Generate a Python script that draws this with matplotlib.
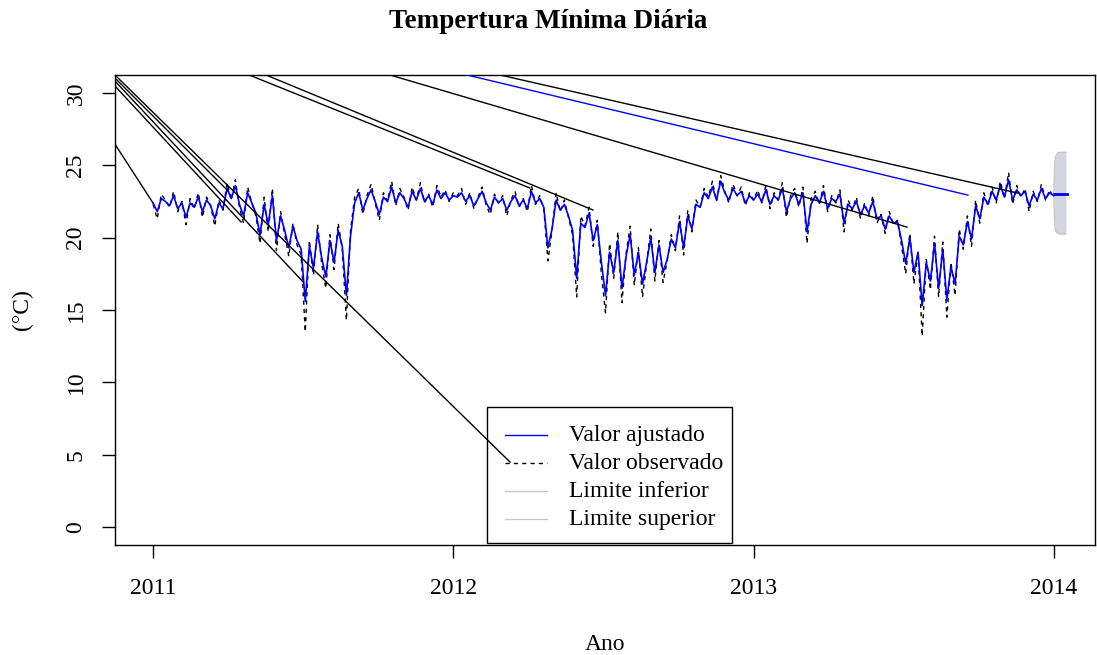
import numpy as np
import matplotlib
matplotlib.use("Agg")
import matplotlib.pyplot as plt
from matplotlib.patches import Rectangle

plt.rcParams["font.family"] = ["Liberation Serif", "DejaVu Serif"]

# daily minimum temperature, sampled every 5 days from 2011-01-01
days = np.arange(0, 1096, 5)

observado = [
    # 2011
    22.3, 21.3, 23.0, 22.6, 22.1, 23.2, 21.8, 22.5, 20.9, 22.7, 22.0, 23.1, 21.4, 22.8, 22.2, 20.8, 22.6, 21.9,
    23.8, 22.6, 24.0, 22.1, 21.0, 23.5, 22.4,
    21.5, 19.6, 22.8, 20.4, 23.4, 19.1, 21.8, 20.2, 18.7, 21.0, 19.5,
    18.8, 13.5, 19.8, 17.4, 20.9, 18.2, 16.5, 20.2, 17.8, 21.0, 19.2, 14.3,
    20.5, 22.8, 23.4, 21.6, 22.9, 23.7, 22.4, 21.2, 23.1, 22.5, 23.9, 22.2, 23.4, 22.8, 21.9, 23.5, 22.6, 23.8,
    22.4, 23.0, 22.1, 23.6, 22.8, 23.3, 22.5, 23.1,
    # 2012
    22.9, 23.4, 22.3, 23.1, 22.0, 22.8, 23.5, 22.2, 21.6, 23.0, 22.4, 22.9, 21.5, 22.6, 23.2, 22.1, 22.7, 21.8,
    23.6, 22.3, 22.9,
    22.0, 18.4, 20.5, 23.1, 21.8, 22.6,
    21.4, 20.2, 15.9, 21.5, 20.8, 22.1, 19.4, 21.2, 17.5,
    14.8, 19.6, 17.2, 20.4, 15.5, 18.9, 20.8, 16.7, 19.3, 15.9, 18.2, 20.6, 17.0, 19.8, 16.9,
    18.4, 20.2, 19.1, 21.5, 18.8, 21.9, 20.4, 22.6,
    22.1, 23.4, 22.8, 23.9, 22.5, 24.3, 23.2, 22.4, 23.7, 22.9, 23.5, 22.2, 23.1, 22.6,
    # 2013
    23.3, 22.4, 23.6, 22.0, 23.1, 22.6, 23.8, 21.4, 22.9, 23.4, 22.1, 23.5, 19.6, 22.7, 23.2, 22.3, 23.6, 21.8,
    22.9, 22.4, 23.3, 20.4, 22.6, 21.9, 22.8, 21.3, 22.4, 21.5, 22.9, 21.0,
    21.6, 20.3, 21.8, 20.9, 21.2,
    19.4, 17.5, 20.3, 16.8, 19.0, 13.2, 18.5, 16.4, 20.1,
    15.9, 19.7, 14.5, 18.3, 16.0, 20.6, 19.2,
    21.5, 19.4, 22.6, 21.0, 23.1, 22.2,
    23.5, 22.4, 23.9, 22.7, 24.5, 22.3, 23.6, 22.8, 23.4, 21.8, 23.2, 22.5, 23.7, 22.6, 23.3, 22.7,
]

ajustado = [
    # 2011
    22.4, 21.8, 22.7, 22.5, 22.2, 22.9, 22.0, 22.4, 21.4, 22.4, 22.1, 22.8, 21.8, 22.6, 22.2, 21.3, 22.4, 22.0,
    23.4, 22.7, 23.6, 22.3, 21.5, 23.1, 22.4,
    21.7, 20.2, 22.3, 20.9, 22.9, 19.8, 21.5, 20.5, 19.3, 20.8, 19.8,
    19.2, 15.6, 19.4, 17.9, 20.4, 18.6, 17.3, 19.8, 18.3, 20.5, 19.4, 16.0,
    20.1, 22.4, 23.1, 21.9, 22.7, 23.3, 22.5, 21.6, 22.8, 22.5, 23.5, 22.4, 23.1, 22.7, 22.1, 23.2, 22.6, 23.4,
    22.5, 22.9, 22.3, 23.3, 22.7, 23.1, 22.6, 22.9,
    # 2012
    22.8, 23.1, 22.5, 22.9, 22.2, 22.7, 23.2, 22.4, 21.9, 22.8, 22.4, 22.7, 21.9, 22.5, 22.9, 22.2, 22.6, 22.0,
    23.2, 22.4, 22.7,
    22.1, 19.3, 20.6, 22.6, 21.9, 22.3,
    21.5, 20.5, 17.2, 21.0, 20.7, 21.7, 19.8, 20.9, 18.3,
    16.0, 19.0, 17.6, 19.8, 16.5, 18.7, 20.2, 17.4, 19.0, 16.8, 18.3, 20.0, 17.6, 19.5, 17.6,
    18.5, 19.9, 19.3, 21.1, 19.3, 21.5, 20.6, 22.3,
    22.1, 23.1, 22.7, 23.5, 22.6, 23.9, 23.1, 22.6, 23.4, 22.9, 23.2, 22.4, 22.9, 22.6,
    # 2013
    23.0, 22.5, 23.3, 22.3, 22.9, 22.6, 23.4, 21.8, 22.7, 23.1, 22.3, 23.1, 20.4, 22.3, 22.9, 22.4, 23.2, 22.0,
    22.7, 22.5, 23.0, 21.0, 22.3, 22.0, 22.5, 21.6, 22.2, 21.7, 22.5, 21.3,
    21.5, 20.6, 21.5, 21.0, 21.1,
    19.8, 18.2, 20.0, 17.6, 19.0, 15.3, 18.3, 17.0, 19.6,
    16.5, 19.2, 15.7, 18.0, 16.8, 20.1, 19.5,
    21.1, 19.9, 22.2, 21.3, 22.8, 22.3,
    23.2, 22.6, 23.6, 22.8, 24.0, 22.6, 23.3, 22.9, 23.2, 22.2, 23.0, 22.6, 23.4, 22.7, 23.1, 22.9,
]

# forecast past the end of the series
prev_x = [2014.0, 2014.003, 2014.006, 2014.012, 2014.02, 2014.04]
prev_media = [23.0, 23.0, 23.0, 23.0, 23.0, 23.0]
prev_inf = [23.0, 20.9, 20.5, 20.3, 20.25, 20.25]
prev_sup = [23.0, 25.1, 25.6, 25.85, 25.9, 25.9]

# stray segments (bad time stamps) running in from the upper left
seg_x0 = [2010.70, 2010.873, 2010.873, 2010.873, 2010.873, 2011.320, 2011.376, 2011.789, 2012.156]
seg_y0 = [32.0, 31.24, 31.03, 30.82, 30.48, 31.24, 31.24, 31.24, 31.24]
seg_x1 = [2011.0, 2012.189, 2011.250, 2011.500, 2011.293, 2012.255, 2012.465, 2013.511, 2013.880]
seg_y1 = [22.39, 4.49, 23.22, 16.93, 21.08, 23.43, 21.91, 20.73, 23.08]
seg_azul_x = [2012.046, 2013.714]
seg_azul_y = [31.24, 22.94]

t = 2011 + days / 365.0

fig = plt.figure(figsize=(10.97, 6.55), dpi=100)
ax = fig.add_axes([0.1048, 0.1679, 0.8933, 0.7176])

ax.fill_between(prev_x, prev_inf, prev_sup, color="#d2d4de", lw=0, zorder=1)
ax.plot(prev_x, prev_inf, color="#c8c8c8", lw=1, zorder=1)
ax.plot(prev_x, prev_sup, color="#c8c8c8", lw=1, zorder=1)

ax.plot(t, observado, color="black", lw=1.0, dashes=(3, 3), zorder=2)
ax.plot(t, ajustado, color="#0000ff", lw=1.2, zorder=3)
ax.plot(prev_x + [2014.045], prev_media + [23.0], color="#0000ff", lw=2, zorder=3)

for x0, y0, x1, y1 in zip(seg_x0, seg_y0, seg_x1, seg_y1):
    ax.plot([x0, x1], [y0, y1], color="black", lw=1.0, zorder=6)
ax.plot(seg_azul_x, seg_azul_y, color="#0000ff", lw=1.0, zorder=3)

ax.set_xlim(2010.873, 2014.137)
ax.set_ylim(-1.24, 31.24)
ax.set_xticks([2011, 2012, 2013, 2014])
ax.set_yticks([0, 5, 10, 15, 20, 25, 30])
ax.tick_params(length=9.5, width=1, labelsize=17)
ax.tick_params(axis="x", pad=14)
ax.tick_params(axis="y", labelrotation=90, pad=11)
for lab in ax.get_yticklabels():
    lab.set_va("center")
for sp in ax.spines.values():
    sp.set_linewidth(1)

# legend box
ax.add_patch(Rectangle((0.3796, 0.004), 0.25, 0.2894, transform=ax.transAxes,
                       facecolor="white", edgecolor="black", lw=1, zorder=5))
leg_items = [
    ("Valor ajustado", "#0000ff", "-"),
    ("Valor observado", "black", "--"),
    ("Limite inferior", "#c8c8c8", "-"),
    ("Limite superior", "#c8c8c8", "-"),
]
for i, (txt, col, ls) in enumerate(leg_items):
    yy = (545 - (435 + 28 * i)) / 470
    ax.plot([0.398, 0.441], [yy, yy], transform=ax.transAxes, color=col, lw=1,
            ls=ls, dashes=(3, 3) if ls == "--" else (None, None), zorder=5.5)
    ax.text(0.4633, yy, txt, transform=ax.transAxes, fontsize=17, va="center", zorder=5.5)

fig.text(0.5, 1 - 22 / 655, "Tempertura Mínima Diária", ha="center", va="center",
         fontsize=19.5, fontweight="bold")
fig.text(0.5515, 1 - 645 / 655, "Ano", ha="center", va="center", fontsize=17)
fig.text(22 / 1097, 1 - 310 / 655, "(°C)", ha="center", va="center", fontsize=17, rotation=90)

fig.savefig("out.png", dpi=100)
